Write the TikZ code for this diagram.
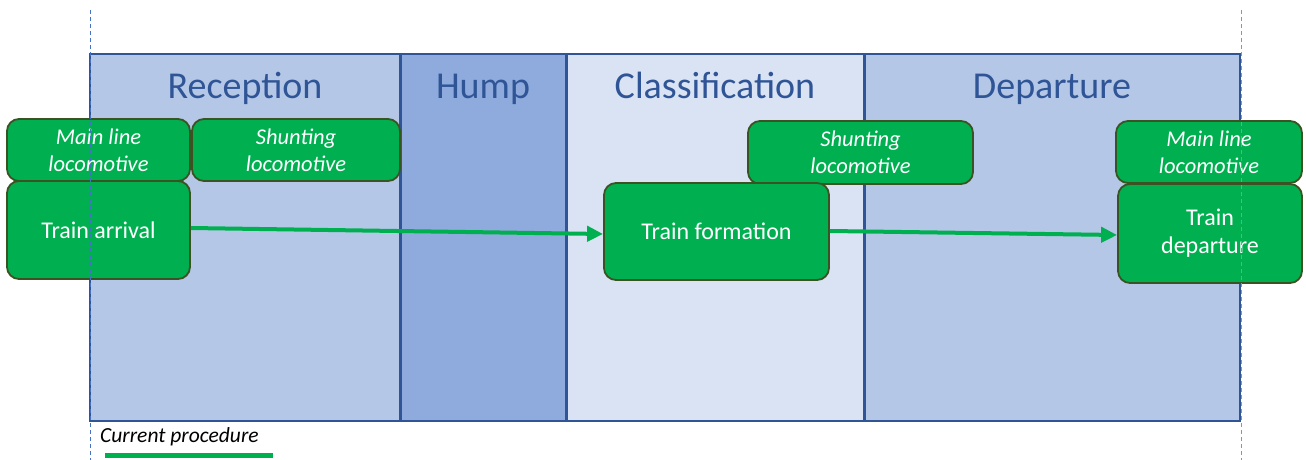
\documentclass[tikz,border=0pt]{standalone}
\usepackage{fontspec}
\setmainfont{Carlito}
\usetikzlibrary{arrows.meta}
\definecolor{dblue}{HTML}{2F5597}
\definecolor{pA}{HTML}{B4C7E7}
\definecolor{pB}{HTML}{8FAADC}
\definecolor{pC}{HTML}{DAE3F3}
\definecolor{gfill}{HTML}{00B050}
\definecolor{gline}{HTML}{3B5323}
\definecolor{dashA}{HTML}{4472C4}
\definecolor{dashB}{HTML}{8497B0}
\tikzset{
  panel/.style={rectangle, inner sep=0pt, outer sep=0pt, draw=none},
  title/.style={text=dblue, font=\fontsize{38}{40}\selectfont, anchor=base, inner sep=0pt},
  gbox/.style={rectangle, rounded corners=12pt, fill=gfill, draw=gline, line width=1.8pt,
     inner sep=0pt, text=white, align=center},
  loco/.style={gbox, font=\itshape\fontsize{22.5}{27}\selectfont},
  step box/.style={gbox, font=\fontsize{24}{28}\selectfont},
  flow/.style={draw=gfill, line width=4pt, -{Triangle[length=16pt,width=15pt]}},
  sep/.style={draw=dblue, line width=3pt},
  guide/.style={dashed, line width=0.8pt, dash pattern=on 4pt off 3pt}
}
\begin{document}
\begin{tikzpicture}[x=1pt,y=-1pt]
\useasboundingbox (0,0) rectangle (1306,460);
% panels
\node[panel, fill=pA, minimum width=310pt, minimum height=367pt] (rec) at (245,237.5) {};
\node[panel, fill=pB, minimum width=166pt, minimum height=367pt] (hump) at (483,237.5) {};
\node[panel, fill=pC, minimum width=298pt, minimum height=367pt] (cls) at (715,237.5) {};
\node[panel, fill=pA, minimum width=376pt, minimum height=367pt] (dep) at (1052,237.5) {};
\draw[dblue, line width=1.8pt] (rec.north west) rectangle (dep.south east);
\draw[sep] (rec.north east) -- (rec.south east);
\draw[sep] (hump.north east) -- (hump.south east);
\draw[sep] (cls.north east) -- (cls.south east);
% titles
\node[title] (t1) at (245,98) {Reception};
\node[title] (t2) at (483,98) {Hump};
\node[title] (t3) at (715,98) {Classification};
\node[title] (t4) at (1052,98) {Departure};
% green boxes
\node[loco, minimum width=183pt, minimum height=62pt] (ml1) at (98.5,150) {Main line\\locomotive};
\node[loco, minimum width=208pt, minimum height=62pt] (sh1) at (296,150) {Shunting\\locomotive};
\node[step box, minimum width=183pt, minimum height=98pt] (arr) at (98.5,230) {Train arrival};
\node[loco, minimum width=225pt, minimum height=63pt] (sh2) at (860.5,152.5) {Shunting\\locomotive};
\node[step box, minimum width=225pt, minimum height=97pt] (form) at (716.5,231.5) {Train formation};
\node[loco, minimum width=186pt, minimum height=62pt] (ml2) at (1209,152) {Main line\\locomotive};
\node[step box, minimum width=184pt, minimum height=99pt] (dept) at (1210,233.5) {Train\\departure};
% flows
\draw[flow] (arr.east |- 0,228) -- (form.west |- 0,234);
\draw[flow] (form.east |- 0,231) -- (dept.west |- 0,235);
% guides
\coordinate (g1a) at (90,10);
\coordinate (g1b) at (90,460);
\coordinate (g2a) at (1241,10);
\coordinate (g2b) at (1241,460);
\draw[guide, dashA] (g1a) -- (g1b);
\draw[guide, dashB] (g2a) -- (g2b);
% legend
\node[anchor=west, font=\itshape\fontsize{21.5}{24}\selectfont, inner sep=0pt] (leg) at (100,437) {Current procedure};
\coordinate (l1) at (105,455);
\coordinate (l2) at (273,455);
\draw[gfill, line width=5pt] (l1) -- (l2);
\end{tikzpicture}
\end{document}
